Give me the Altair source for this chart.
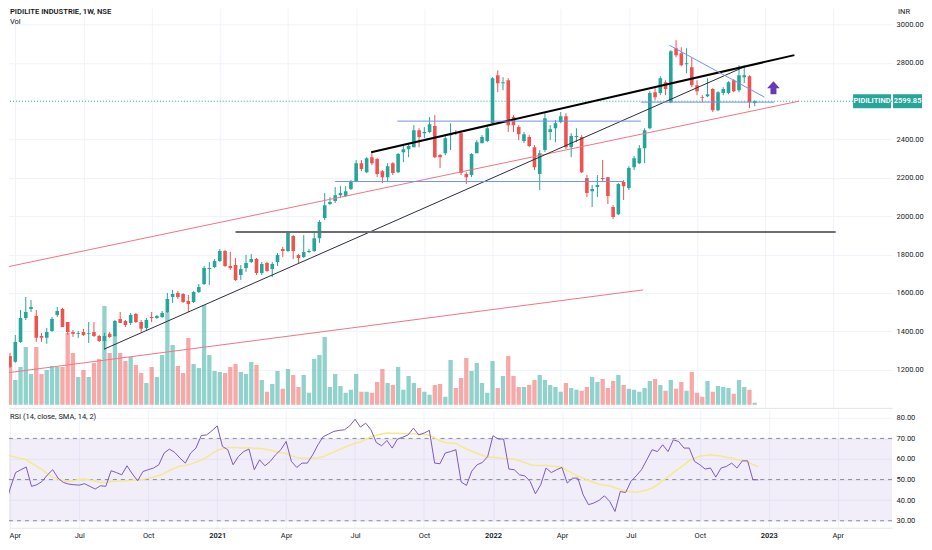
import altair as alt
import pandas as pd

FIRST_WEEK = "2020-03-30"

opens = [1272, 1241, 1345, 1470, 1517, 1480, 1376, 1366, 1402, 1485,
         1517, 1449, 1397, 1387, 1397, 1387, 1397, 1376, 1350, 1387,
         1376, 1465, 1454, 1444, 1491, 1449, 1418, 1475, 1470, 1475,
         1501, 1579, 1600, 1595, 1558, 1553, 1605, 1647, 1725, 1735,
         1767, 1819, 1741, 1746, 1694, 1730, 1762, 1777, 1704, 1756,
         1725, 1762, 1829, 1819, 1897, 1798, 1788, 1814, 1819, 1886,
         1991, 2064, 2079, 2110, 2105, 2142, 2183, 2277, 2230, 2308,
         2298, 2235, 2204, 2277, 2230, 2334, 2350, 2360, 2449, 2433,
         2439, 2470, 2319, 2329, 2423, 2439, 2433, 2220, 2215, 2329,
         2381, 2392, 2485, 2735, 2694, 2709, 2517, 2465, 2392, 2413,
         2360, 2220, 2345, 2439, 2459, 2491, 2522, 2360, 2413, 2413,
         2199, 2131, 2152, 2199, 2204, 2048, 2011, 2178, 2147, 2256,
         2277, 2355, 2459, 2647, 2642, 2699, 2595, 2876, 2850, 2793,
         2777, 2683, 2621, 2626, 2663, 2553, 2642, 2642, 2709, 2657,
         2725, 2730, 2590]
highs = [1288, 1381, 1511, 1579, 1563, 1511, 1392, 1418, 1475, 1527,
         1522, 1449, 1407, 1402, 1413, 1449, 1449, 1381, 1392, 1397,
         1459, 1501, 1459, 1496, 1496, 1459, 1470, 1501, 1485, 1506,
         1600, 1616, 1610, 1600, 1590, 1610, 1647, 1741, 1762, 1777,
         1829, 1824, 1814, 1782, 1746, 1798, 1803, 1782, 1762, 1762,
         1762, 1808, 1840, 1923, 1902, 1803, 1902, 1829, 1912, 1980,
         2121, 2100, 2152, 2157, 2157, 2189, 2293, 2293, 2308, 2329,
         2303, 2241, 2277, 2282, 2329, 2371, 2381, 2475, 2459, 2465,
         2517, 2527, 2324, 2418, 2485, 2449, 2439, 2230, 2329, 2397,
         2423, 2475, 2725, 2761, 2725, 2720, 2527, 2475, 2439, 2423,
         2371, 2345, 2537, 2475, 2501, 2543, 2537, 2433, 2459, 2423,
         2215, 2163, 2215, 2293, 2204, 2058, 2173, 2189, 2261, 2314,
         2371, 2459, 2652, 2668, 2730, 2709, 2866, 2918, 2881, 2876,
         2829, 2709, 2631, 2720, 2668, 2652, 2673, 2704, 2715, 2787,
         2787, 2735, 2605]
lows = [1209, 1236, 1340, 1459, 1501, 1345, 1345, 1335, 1397, 1475,
        1423, 1381, 1371, 1366, 1376, 1340, 1371, 1345, 1303, 1366,
        1371, 1444, 1423, 1433, 1444, 1397, 1407, 1449, 1465, 1470,
        1496, 1548, 1569, 1548, 1501, 1548, 1600, 1642, 1642, 1730,
        1762, 1735, 1720, 1663, 1668, 1710, 1756, 1694, 1694, 1710,
        1683, 1741, 1788, 1814, 1777, 1756, 1782, 1808, 1814, 1861,
        1980, 2058, 2069, 2095, 2100, 2137, 2178, 2235, 2225, 2267,
        2204, 2173, 2178, 2215, 2225, 2282, 2308, 2360, 2360, 2407,
        2433, 2303, 2251, 2319, 2345, 2423, 2215, 2168, 2204, 2329,
        2381, 2386, 2475, 2647, 2657, 2439, 2439, 2397, 2381, 2360,
        2241, 2137, 2334, 2397, 2386, 2485, 2350, 2308, 2386, 2225,
        2100, 2048, 2100, 2178, 2064, 1985, 2006, 2085, 2137, 2241,
        2272, 2277, 2454, 2605, 2631, 2631, 2590, 2829, 2782, 2746,
        2673, 2631, 2595, 2621, 2543, 2548, 2631, 2636, 2647, 2647,
        2694, 2564, 2574]
closes = [1215, 1345, 1470, 1501, 1527, 1366, 1366, 1397, 1465, 1506,
          1423, 1397, 1387, 1392, 1381, 1392, 1376, 1350, 1376, 1371,
          1454, 1444, 1433, 1485, 1449, 1413, 1459, 1470, 1480, 1496,
          1569, 1595, 1579, 1553, 1543, 1605, 1631, 1730, 1730, 1767,
          1819, 1741, 1730, 1668, 1725, 1756, 1777, 1704, 1751, 1715,
          1751, 1798, 1819, 1918, 1819, 1782, 1814, 1819, 1886, 1970,
          2058, 2074, 2110, 2121, 2131, 2178, 2277, 2246, 2303, 2277,
          2220, 2204, 2261, 2225, 2324, 2350, 2366, 2449, 2413, 2439,
          2480, 2308, 2308, 2407, 2433, 2433, 2225, 2204, 2324, 2386,
          2413, 2459, 2720, 2694, 2699, 2475, 2475, 2428, 2428, 2366,
          2256, 2329, 2511, 2454, 2485, 2522, 2360, 2418, 2418, 2230,
          2121, 2142, 2163, 2194, 2105, 1996, 2168, 2157, 2251, 2303,
          2355, 2449, 2642, 2621, 2720, 2663, 2860, 2840, 2787, 2798,
          2683, 2652, 2616, 2636, 2553, 2647, 2663, 2699, 2652, 2735,
          2735, 2595, 2599.85]
volume_m = [2.00, 1.25, 1.90, 2.90, 1.55, 2.90, 1.55, 1.75, 1.95, 1.90,
            1.90, 3.60, 2.60, 1.40, 1.75, 1.40, 2.10, 2.30, 4.95, 2.60,
            3.50, 2.60, 2.20, 2.40, 2.00, 1.60, 1.10, 1.90, 1.40, 2.50,
            4.65, 3.00, 1.95, 1.60, 3.35, 2.05, 1.85, 5.00, 2.50, 1.70,
            1.65, 1.60, 1.90, 2.05, 1.65, 1.55, 2.15, 2.00, 1.25, 0.65,
            1.05, 1.70, 0.80, 1.80, 1.50, 0.90, 1.50, 0.60, 2.30, 2.50,
            3.40, 0.90, 1.55, 0.95, 0.60, 0.75, 1.55, 0.65, 0.65, 0.60,
            1.15, 1.80, 1.10, 1.00, 1.90, 0.75, 1.45, 1.10, 0.85, 0.65,
            0.50, 1.00, 1.05, 0.40, 2.25, 0.85, 1.35, 2.35, 1.70, 2.10,
            1.10, 0.60, 2.20, 0.85, 1.45, 2.45, 1.45, 0.90, 0.90, 1.00,
            1.25, 1.50, 1.25, 1.00, 0.90, 0.65, 1.10, 0.85, 0.75, 0.70,
            0.90, 1.40, 1.15, 1.30, 0.85, 1.20, 1.50, 1.00, 0.80, 0.75,
            0.65, 0.85, 1.20, 1.30, 1.00, 0.70, 1.25, 0.80, 1.15, 0.70,
            1.65, 0.60, 0.40, 1.20, 0.65, 0.95, 0.90, 0.85, 0.55, 1.25,
            0.90, 0.75, 0.10]
rsi_values = [36.6, 45.9, 53.4, 54.8, 56.1, 46.7, 47.5, 49.1, 52.3, 54.8,
              50.7, 48.6, 47.8, 47.5, 47.3, 48.0, 46.7, 45.4, 47.0, 46.7,
              54.3, 53.4, 52.3, 56.7, 52.8, 49.4, 53.9, 54.8, 55.6, 57.2,
              62.9, 64.8, 63.2, 60.4, 58.0, 62.9, 65.3, 71.4, 71.7, 73.7,
              76.1, 66.1, 64.5, 57.2, 61.2, 63.6, 64.8, 54.8, 59.6, 56.7,
              58.8, 62.0, 64.5, 68.5, 58.8, 55.9, 58.0, 58.0, 62.0, 66.9,
              70.9, 72.1, 73.4, 73.9, 74.2, 76.1, 79.3, 75.5, 77.4, 74.2,
              68.0, 66.4, 69.0, 65.3, 69.7, 70.6, 71.7, 75.0, 71.7, 72.6,
              73.9, 58.0, 57.7, 62.9, 63.6, 64.5, 48.8, 47.2, 54.1, 57.2,
              58.3, 61.2, 71.3, 69.7, 69.7, 55.1, 54.8, 52.3, 51.8, 49.1,
              43.1, 47.5, 55.6, 53.4, 54.8, 55.9, 48.3, 50.7, 50.7, 42.6,
              37.8, 38.6, 39.9, 42.1, 39.4, 34.5, 44.2, 43.7, 49.1, 51.8,
              54.8, 59.6, 64.5, 63.6, 66.9, 63.6, 69.3, 68.5, 65.3, 65.3,
              58.8, 57.2, 55.1, 55.6, 51.2, 55.6, 56.4, 58.0, 55.6, 59.1,
              59.1, 49.9, 49.9]
# first 13 values of the 14-period SMA of RSI
rsi_sma_head = [62.9, 61.6, 60.8, 60.3, 59.6, 58.0, 56.4, 54.8, 52.8, 51.2, 50.2, 49.4, 49.1]

price_ticks = [1200, 1400, 1600, 1800, 2000, 2200, 2400, 2800, 3000]
rsi_ticks = [30, 40, 50, 60, 70, 80]
rsi_levels = [70, 50, 30]
time_ticks = ["2020-04-06", "2020-07-06", "2020-10-05", "2021-01-04", "2021-04-05",
              "2021-07-05", "2021-10-04", "2022-01-03", "2022-04-04", "2022-07-04",
              "2022-10-03", "2023-01-02", "2023-04-03"]

# user drawings (trend lines): id, style, date, price
draw_ids = ["r1", "r1", "r2", "r2", "k1", "k1", "kb", "kb", "h1", "h1",
            "b1", "b1", "b2", "b2", "b3", "b3", "b4", "b4"]
draw_styles = ["red", "red", "red", "red", "black", "black", "bold", "bold", "gray", "gray",
               "blue", "blue", "blue", "blue", "blue", "blue", "blue", "blue"]
draw_dates = ["2020-03-25", "2023-02-16", "2020-03-25", "2022-07-23",
              "2020-08-03", "2022-12-04", "2021-07-25", "2023-02-10",
              "2021-01-25", "2023-04-06",
              "2021-08-29", "2022-07-20", "2021-06-07", "2022-06-27",
              "2022-07-20", "2023-01-14", "2022-08-27", "2023-01-01"]
draw_prices = [1735, 2600, 1183, 1616,
               1308, 2777, 2334, 2840,
               1918, 1918,
               2496, 2496, 2181, 2181,
               2595, 2595, 2892, 2621]
arrow_date = ["2023-01-13"]
arrow_price = [2671]

symbol_name = "PIDILITIND"
last_price = 2599.85

UP = "#26a69a"
DOWN = "#ef5350"
FONT = "Roboto"

dates = pd.date_range(FIRST_WEEK, periods=len(closes), freq="7D").strftime("%Y-%m-%d")
bars = pd.DataFrame({"date": dates, "open": opens, "high": highs, "low": lows,
                     "close": closes, "volume": volume_m})
bars["dir"] = ["up" if c >= o else "down" for o, c in zip(opens, closes)]

sma = pd.Series(rsi_values).rolling(14).mean()
sma.iloc[:13] = rsi_sma_head
rsi_df = pd.DataFrame({"date": dates, "rsi": rsi_values, "sma": sma.round(2)})

draw_df = pd.DataFrame({"id": draw_ids, "style": draw_styles, "date": draw_dates, "price": draw_prices})
arrow_df = pd.DataFrame({"date": arrow_date, "price": arrow_price})
last_df = pd.DataFrame({"price": [last_price], "name": [symbol_name], "label": [f"{last_price:.2f}"]})


def dt(s, h=0, mi=0):
    y, m, d = (int(v) for v in s.split("-"))
    return alt.DateTime(year=y, month=m, date=d, hours=h, minutes=mi, utc=True)


W = 884
xscale = alt.Scale(type="utc", domain=[dt("2020-04-04", 6, 33), dt("2023-06-13", 14, 40)], nice=False)
tick_dt = [dt(s) for s in time_ticks]
GRID = "#f0f3fa"
xaxis_main = alt.Axis(values=tick_dt, labels=False, ticks=False, domain=True, domainColor="#e0e3eb",
                      grid=True, gridColor=GRID, title=None)
first_test = "datum.value < utc(2020, 4, 1)"
xaxis_rsi = alt.Axis(
    values=tick_dt, ticks=False, domain=True, domainColor="#e0e3eb", grid=True, gridColor=GRID,
    title=None, labelPadding=4, labelFontSize=7.5, labelColor="#131722", labelFont=FONT,
    labelExpr="utcmonth(datum.value) == 0 ? utcFormat(datum.value, '%Y') : utcFormat(datum.value, '%b')",
    labelAlign={"condition": {"test": first_test, "value": "left"}, "value": "center"},
    labelOffset={"condition": {"test": first_test, "value": -1.3}, "value": 0},
    labelFontWeight={"condition": {"test": "utcmonth(datum.value) == 0", "value": 600}, "value": 400},
)

pscale = alt.Scale(domain=[1001.1, 3084.3], nice=False, zero=False)
paxis = alt.Axis(orient="right", values=price_ticks, format=".2f", ticks=False, domain=False,
                 labelPadding=4, labelFontSize=7.5, labelColor="#131722", labelFont=FONT,
                 grid=True, gridColor=GRID, title=None)
X = alt.X("date:T", scale=xscale, axis=xaxis_main)
dir_color = alt.Color("dir:N", scale=alt.Scale(domain=["up", "down"], range=[UP, DOWN]), legend=None)

vol = alt.Chart(bars).mark_bar(size=4.3, opacity=0.5, clip=True).encode(
    x=X,
    y=alt.Y("volume:Q", scale=alt.Scale(domain=[-0.15, 19.85], nice=False, zero=False), axis=None),
    color=dir_color,
)

wicks = alt.Chart(bars).mark_rule(strokeWidth=1, clip=True).encode(
    x=X, y=alt.Y("low:Q", scale=pscale, axis=paxis), y2="high:Q", color=dir_color)
bodies = alt.Chart(bars).mark_bar(size=3.6, clip=True).encode(
    x=X, y=alt.Y("open:Q", scale=pscale, axis=paxis), y2="close:Q", color=dir_color)

price_line = alt.Chart(last_df).mark_rule(color=UP, strokeDash=[1, 2], strokeWidth=1).encode(
    y=alt.Y("price:Q", scale=pscale, axis=paxis))

styles = {
    "red": ("#f07584", 1),
    "black": ("#2a2e39", 1),
    "bold": ("#000000", 2),
    "gray": ("#6e6e6e", 2),
    "blue": ("#6f93ea", 1),
}
draw_layers = []
for s, (col, w) in styles.items():
    draw_layers.append(
        alt.Chart(draw_df).transform_filter(alt.datum.style == s)
        .mark_line(color=col, strokeWidth=w, clip=True)
        .encode(x=X, y=alt.Y("price:Q", scale=pscale, axis=paxis), detail="id:N")
    )

ARROW = "M0,-1 L1,0.1 L0.47,0.1 L0.47,1.05 L-0.47,1.05 L-0.47,0.1 L-1,0.1 Z"
arrow = alt.Chart(arrow_df).mark_point(shape=ARROW, size=161, filled=True, opacity=1,
                                       color="#673ab7", strokeWidth=0).encode(
    x=X, y=alt.Y("price:Q", scale=pscale, axis=paxis))

titles = pd.DataFrame({"t": ["PIDILITE INDUSTRIE, 1W, NSE"]})
title_txt = alt.Chart(titles).mark_text(align="left", baseline="top", font=FONT, fontSize=7.6,
                                        fontWeight=600, color="#131722").encode(
    text="t:N", x=alt.value(1), y=alt.value(0))
vol_txt = alt.Chart(pd.DataFrame({"t": ["Vol"]})).mark_text(
    align="left", baseline="middle", font=FONT, fontSize=7.5, color="#131722").encode(
    text="t:N", x=alt.value(1), y=alt.value(14))
inr_txt = alt.Chart(pd.DataFrame({"t": ["INR"]})).mark_text(
    align="left", baseline="top", font=FONT, fontSize=7.5, color="#131722").encode(
    text="t:N", x=alt.value(890), y=alt.value(0))

name_box = alt.Chart(last_df).mark_rect(color=UP, yOffset=-7, y2Offset=7).encode(
    x=alt.value(845), x2=alt.value(883), y=alt.Y("price:Q", scale=pscale, axis=paxis), y2="price:Q")
val_box = alt.Chart(last_df).mark_rect(color=UP, yOffset=-7, y2Offset=7).encode(
    x=alt.value(885), x2=alt.value(914), y=alt.Y("price:Q", scale=pscale, axis=paxis), y2="price:Q")
name_txt = alt.Chart(last_df).mark_text(color="white", font=FONT, fontSize=7.5, fontWeight=600,
                                        align="center", baseline="middle").encode(
    text="name:N", x=alt.value(864), y=alt.Y("price:Q", scale=pscale, axis=paxis))
val_txt = alt.Chart(last_df).mark_text(color="white", font=FONT, fontSize=7.5, fontWeight=600,
                                       align="center", baseline="middle").encode(
    text="label:N", x=alt.value(899.5), y=alt.Y("price:Q", scale=pscale, axis=paxis))

price_pane = alt.layer(wicks, bodies, price_line, *draw_layers, arrow, title_txt, vol_txt, inr_txt,
                       name_box, val_box, name_txt, val_txt)
main = alt.layer(vol, price_pane).resolve_scale(y="independent").properties(width=W, height=400)

# RSI pane
rscale = alt.Scale(domain=[26.6, 83.88], nice=False, zero=False)
raxis = alt.Axis(orient="right", values=rsi_ticks, format=".2f", ticks=False, domain=False,
                 labelPadding=4, labelFontSize=7.5, labelColor="#131722", labelFont=FONT,
                 grid=True, gridColor=GRID, title=None)
XR = alt.X("date:T", scale=xscale, axis=xaxis_rsi)

band = alt.Chart(pd.DataFrame({"lo": [30], "hi": [70]})).mark_rect(color="#7e57c2", opacity=0.1).encode(
    y=alt.Y("lo:Q", scale=rscale, axis=raxis), y2="hi:Q")
levels = alt.Chart(pd.DataFrame({"lvl": rsi_levels})).mark_rule(
    color="#787b86", strokeDash=[4, 4], strokeWidth=1, opacity=0.85).encode(
    y=alt.Y("lvl:Q", scale=rscale, axis=raxis))
sma_line = alt.Chart(rsi_df).mark_line(color="#f5e88e", strokeWidth=1.5, clip=True).encode(
    x=XR, y=alt.Y("sma:Q", scale=rscale, axis=raxis))
rsi_line = alt.Chart(rsi_df).mark_line(color="#7e57c2", strokeWidth=1, clip=True).encode(
    x=XR, y=alt.Y("rsi:Q", scale=rscale, axis=raxis))
rsi_txt = alt.Chart(pd.DataFrame({"t": ["RSI (14, close, SMA, 14, 2)"]})).mark_text(
    align="left", baseline="middle", font=FONT, fontSize=7.5, color="#131722").encode(
    text="t:N", x=alt.value(1), y=alt.value(7))

rsi_pane = alt.layer(band, levels, sma_line, rsi_line, rsi_txt).properties(width=W, height=118)

chart = alt.vconcat(main, rsi_pane, spacing=2).properties(
    padding=0, background="white"
).configure_view(stroke=None)

chart.save("out.html", embed_options={"renderer": "svg", "actions": False})
